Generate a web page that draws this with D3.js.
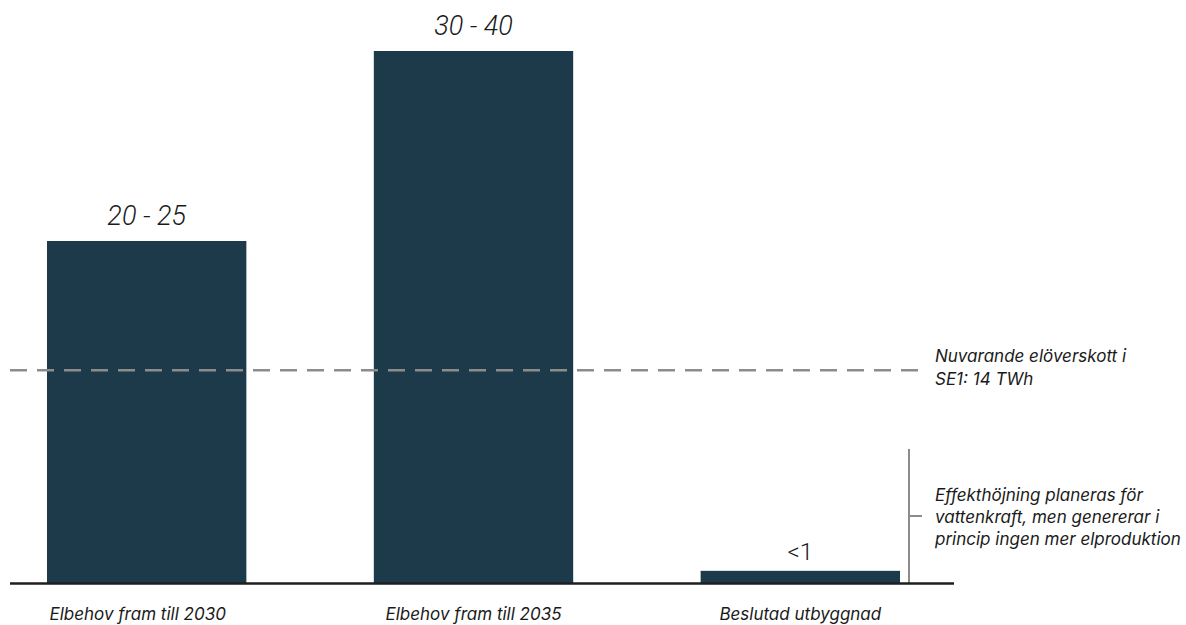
<!DOCTYPE html>
<html>
<head>
<meta charset="utf-8">
<script src="https://cdn.jsdelivr.net/npm/d3@7"></script>
<style>
  body { margin: 0; background: #fff; }
  text { fill: #1a1a1a; }
</style>
</head>
<body>
<script>
var width = 1186,
    height = 625;

// data (TWh)
var categories = ['Elbehov fram till 2030', 'Elbehov fram till 2035', 'Beslutad utbyggnad'];
var values = [22.5, 35, 0.8];
var valueLabels = ['20 - 25', '30 - 40', '<1'];
var surplus = 14;
var surplusNote = ['Nuvarande elöverskott i', 'SE1: 14 TWh'];
var hydroNote = ['Effekthöjning planeras för', 'vattenkraft, men genererar i', 'princip ingen mer elproduktion'];

var data = categories.map(function(c, i) {
    return {cat: c, value: values[i], label: valueLabels[i]};
});

var xScale = d3.scaleBand()
    .domain(categories)
    .range([47, 900])
    .paddingInner(0.39)
    .paddingOuter(0);

var yScale = d3.scaleLinear()
    .domain([0, 35])
    .range([583, 51]);

var svg = d3.select('body')
    .append('svg')
    .attr('width', width)
    .attr('height', height);

var barColor = '#1d3a4b';
var font = 'Inter, "Liberation Sans", sans-serif';

// bars
svg.selectAll('rect.bar')
    .data(data)
    .enter()
    .append('rect')
    .attr('class', 'bar')
    .attr('x', function(d) { return xScale(d.cat) })
    .attr('width', xScale.bandwidth())
    .attr('y', function(d) { return yScale(d.value) })
    .attr('height', function(d) { return yScale(0) - yScale(d.value) })
    .style('fill', barColor);

// value labels above bars ('<1' is upright, the ranges are italic)
svg.selectAll('text.val')
    .data(data)
    .enter()
    .append('text')
    .attr('class', 'val')
    .attr('x', function(d) { return xScale(d.cat) + xScale.bandwidth() / 2 })
    .attr('y', function(d) { return yScale(d.value) - (d.label == '<1' ? 11 : 16) })
    .attr('text-anchor', 'middle')
    .style('font-family', 'Roboto, "Liberation Sans", Arial, sans-serif')
    .style('font-weight', 300)
    .style('font-style', function(d) { return d.label == '<1' ? 'normal' : 'italic' })
    .style('font-size', function(d) { return d.label == '<1' ? '24px' : '27px' })
    .text(function(d) { return d.label });

// category labels under the axis
svg.selectAll('text.cat')
    .data(data)
    .enter()
    .append('text')
    .attr('class', 'cat')
    .attr('x', function(d, i) { return xScale(d.cat) + xScale.bandwidth() / 2 - (i == 0 ? 9 : 0) })
    .attr('y', 620)
    .attr('text-anchor', 'middle')
    .style('font-family', font)
    .style('font-style', 'italic')
    .style('font-size', '17px')
    .text(function(d) { return d.cat });

// current surplus, dashed line
svg.append('line')
    .attr('x1', 10)
    .attr('x2', 920)
    .attr('y1', yScale(surplus))
    .attr('y2', yScale(surplus))
    .style('stroke', '#8c8c8c')
    .style('stroke-width', 2.5)
    .style('stroke-dasharray', '17,10');

svg.append('text')
    .attr('x', 935)
    .attr('y', yScale(surplus) - 8)
    .style('font-family', font)
    .style('font-style', 'italic')
    .style('font-size', '17px')
    .selectAll('tspan')
    .data(surplusNote)
    .enter()
    .append('tspan')
    .attr('x', 935)
    .attr('dy', function(d, i) { return i == 0 ? 0 : 23 })
    .text(function(d) { return d });

// bracket for the hydro power note
svg.append('line')
    .attr('x1', 909).attr('x2', 909)
    .attr('y1', 449).attr('y2', yScale(0))
    .style('stroke', '#8c8c8c')
    .style('stroke-width', 2);

svg.append('line')
    .attr('x1', 909).attr('x2', 922)
    .attr('y1', 516).attr('y2', 516)
    .style('stroke', '#8c8c8c')
    .style('stroke-width', 2);

svg.append('text')
    .attr('x', 935)
    .attr('y', 501)
    .style('font-family', font)
    .style('font-style', 'italic')
    .style('font-size', '17px')
    .selectAll('tspan')
    .data(hydroNote)
    .enter()
    .append('tspan')
    .attr('x', 935)
    .attr('dy', function(d, i) { return i == 0 ? 0 : 22 })
    .text(function(d) { return d });

// baseline
svg.append('line')
    .attr('x1', 10)
    .attr('x2', 954)
    .attr('y1', yScale(0) + 0.5)
    .attr('y2', yScale(0) + 0.5)
    .style('stroke', '#1f1f1f')
    .style('stroke-width', 2.5);
</script>
</body>
</html>
